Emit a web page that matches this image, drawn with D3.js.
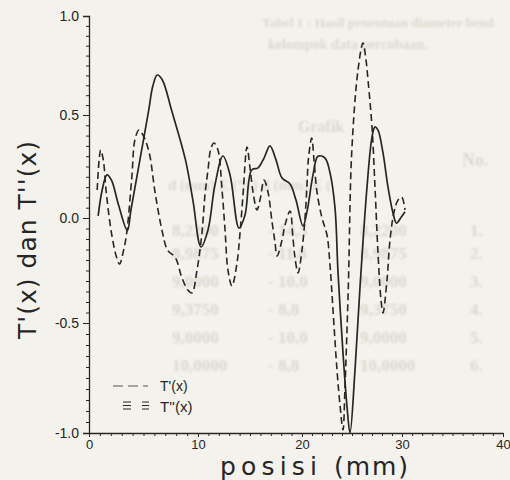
<!DOCTYPE html>
<html lang="id">
  <head>
    <meta charset="UTF-8" />
    <title>T'(x) dan T''(x)</title>
    <style>
      body { margin: 0; background: #f4f2ec; }
      svg { display: block; }
    </style>
  </head>
  <body>
    <svg width="510" height="480"></svg>
    <script src="https://d3js.org/d3.v7.min.js"></script>
    <script>
      // tick labels
      var xTicks = [0, 10, 20, 30, 40];
      var yTicks = [-1, -0.5, 0, 0.5, 1];

      // T'(x), solid line
      var posisi1 = [0.84, 1.21, 1.65, 2.06, 2.71, 3.52, 3.85, 4.67, 5.48, 5.85,
        6.26, 6.73, 7.57, 8.85, 9.53, 10.29, 10.96, 11.63, 12.4, 13.08,
        13.94, 14.52, 15.16, 15.77, 16.35, 16.92, 17.5, 18.08, 18.85, 19.42,
        20.1, 20.5, 21.1, 21.6, 22.3, 22.8, 23.3, 23.6, 24.1, 24.5,
        24.8, 25.3, 25.8, 26.5, 27.0, 27.3, 27.6, 28.1, 28.6, 29.1,
        29.45, 29.95, 30.3];
      var turunan1 = [0.01, 0.136, 0.209, 0.184, 0.063, -0.06, 0.04, 0.282, 0.525, 0.645,
        0.702, 0.677, 0.525, 0.282, 0.087, -0.138, -0.057, 0.16, 0.301, 0.209,
        -0.048, 0.015, 0.233, 0.243, 0.291, 0.35, 0.282, 0.194, 0.165, 0.087,
        -0.038, 0.031, 0.209, 0.3, 0.291, 0.22, 0.049, -0.257, -0.636, -0.88,
        -1.0, -0.714, -0.33, 0.15, 0.393, 0.442, 0.427, 0.316, 0.15, 0.024,
        -0.024, 0.006, 0.03];

      // T''(x), dashed line
      var posisi2 = [0.75, 0.93, 1.07, 1.31, 1.59, 2.06, 2.52, 2.8, 3.18, 3.46,
        3.93, 4.21, 4.58, 4.95, 5.51, 6.07, 6.73, 7.2, 7.94, 8.5,
        9.07, 9.44, 9.91, 10.38, 10.67, 10.96, 11.25, 11.54, 11.92, 12.31,
        12.6, 12.88, 13.27, 13.75, 14.04, 14.33, 14.71, 15.0, 15.29, 15.67,
        15.96, 16.35, 16.73, 17.12, 17.4, 17.6, 18.08, 18.37, 18.85, 19.13,
        19.33, 19.62, 20.0, 20.3, 20.5, 20.65, 20.97, 21.2, 21.5, 22.0,
        22.5, 22.8, 23.1, 23.5, 23.8, 24.1, 24.3, 24.63, 24.97, 25.6,
        26.1, 26.4, 26.6, 27.0, 27.3, 27.6, 27.9, 28.1, 28.5, 28.8,
        29.2, 29.6, 29.97, 30.3];
      var turunan2 = [0.136, 0.282, 0.33, 0.282, 0.121, -0.071, -0.186, -0.219, -0.152, -0.071,
        0.199, 0.379, 0.427, 0.403, 0.32, 0.121, -0.067, -0.152, -0.19, -0.281,
        -0.343, -0.357, -0.248, -0.071, 0.112, 0.233, 0.34, 0.364, 0.33, 0.136,
        -0.057, -0.248, -0.324, -0.214, -0.071, 0.112, 0.345, 0.243, 0.126, 0.039,
        0.087, 0.184, 0.126, -0.019, -0.114, -0.181, -0.105, -0.033, 0.034, -0.095,
        -0.19, -0.262, -0.152, 0.0, 0.16, 0.291, 0.388, 0.282, 0.126, 0.0,
        -0.081, -0.224, -0.438, -0.714, -0.873, -0.986, -0.79, -0.33, 0.316, 0.727,
        0.864, 0.778, 0.677, 0.442, 0.15, -0.167, -0.39, -0.452, -0.295, -0.105,
        0.029, 0.087, 0.102, 0.039];

      // text showing through from the other side of the page
      var tembusJudul = ["Tabel 1 : Hasil penentuan diameter bend", "kelompok data percobaan."];
      var tembusBaris = [
        ["8,2200", "- 14,5", "8,2200", "1."],
        ["8,9875", "- 11,8", "8,9875", "2."],
        ["9,0000", "- 10,0", "9,0000", "3."],
        ["9,3750", "- 8,8", "9,3750", "4."],
        ["9,0000", "- 10,0", "9,0000", "5."],
        ["10,0000", "- 8,8", "10,0000", "6."]
      ];

      var svg = d3.select("svg");
      var ink = "#262626";
      var huruf = "'DejaVu Sans', 'Liberation Sans', sans-serif";

      // scanned page: the tick spacing is not quite even, so piecewise scales
      var x = d3.scaleLinear().domain(xTicks).range([89, 198, 302, 402, 503]);
      var y = d3.scaleLinear().domain(yTicks).range([433, 323, 218, 115, 16]);

      svg.append("defs").append("filter").attr("id", "kabur")
        .append("feGaussianBlur").attr("stdDeviation", 0.9);

      // ghost text
      var ghost = svg.append("g")
        .attr("fill", "#dcd8ce")
        .attr("filter", "url(#kabur)")
        .attr("font-family", "'Liberation Serif', serif")
        .attr("font-weight", "bold");
      ghost.selectAll(".judul").data(tembusJudul).enter().append("text")
        .attr("x", function (d, i) { return i == 0 ? 262 : 268; })
        .attr("y", function (d, i) { return 27 + i * 22; })
        .attr("font-size", function (d, i) { return i == 0 ? 12 : 15; })
        .attr("textLength", function (d, i) { return i == 0 ? 232 : 160; })
        .attr("lengthAdjust", "spacingAndGlyphs")
        .text(function (d) { return d; });
      ghost.append("text").attr("x", 298).attr("y", 132).attr("font-size", 16).text("Grafik");
      ghost.append("text").attr("x", 462).attr("y", 166).attr("font-size", 18).text("No.");
      ghost.append("text").attr("x", 168).attr("y", 190).attr("font-size", 15)
        .text("d (mm)     E (%)     d (mm)     E (");
      var kolomX = [172, 268, 360, 470];
      var barisY = [236, 259, 287, 315, 343, 371];
      tembusBaris.forEach(function (r, i) {
        ghost.selectAll(null).data(r).enter().append("text")
          .attr("x", function (d, j) { return kolomX[j]; })
          .attr("y", barisY[i])
          .attr("font-size", 17)
          .text(function (d) { return d; });
      });

      // axes
      var fmt = function (d) { return d.toFixed(1); };

      svg.append("g")
        .attr("transform", "translate(0,433)")
        .call(d3.axisBottom(x).tickValues(d3.range(0, 41, 1)).tickSize(3).tickSizeOuter(0).tickFormat(""))
        .call(function (g) { g.select(".domain").remove(); })
        .attr("color", ink);

      var gx = svg.append("g")
        .attr("transform", "translate(0,433)")
        .call(d3.axisBottom(x).tickValues(xTicks).tickSize(4).tickSizeOuter(0).tickPadding(3))
        .attr("color", ink)
        .attr("font-family", "'Liberation Sans', Arial, sans-serif")
        .attr("font-size", 13);
      gx.select(".domain").attr("stroke-width", 1.3);

      svg.append("g")
        .attr("transform", "translate(89,0)")
        .call(d3.axisLeft(y).tickValues(d3.range(-1, 1.001, 0.05)).tickSize(3).tickSizeOuter(0).tickFormat(""))
        .call(function (g) { g.select(".domain").remove(); })
        .attr("color", ink);

      var gy = svg.append("g")
        .attr("transform", "translate(89,0)")
        .call(d3.axisLeft(y).tickValues(yTicks).tickSize(6).tickSizeOuter(6).tickPadding(4).tickFormat(fmt))
        .attr("color", ink)
        .attr("font-family", "'Liberation Sans', Arial, sans-serif")
        .attr("font-size", 14);
      gy.select(".domain").attr("stroke-width", 1.3);

      // axis titles
      svg.append("text")
        .attr("transform", "translate(36,240) rotate(-90)")
        .attr("text-anchor", "middle")
        .attr("font-family", huruf)
        .attr("font-size", 25)
        .attr("fill", ink)
        .attr("textLength", 198)
        .attr("lengthAdjust", "spacing")
        .text("T'(x) dan T''(x)");

      svg.append("text")
        .attr("x", 220)
        .attr("y", 475)
        .attr("font-family", huruf)
        .attr("font-size", 25)
        .attr("fill", ink)
        .attr("textLength", 97)
        .attr("lengthAdjust", "spacing")
        .text("posisi");
      svg.append("text")
        .attr("x", 334)
        .attr("y", 475)
        .attr("font-family", huruf)
        .attr("font-size", 25)
        .attr("fill", ink)
        .attr("textLength", 74)
        .attr("lengthAdjust", "spacing")
        .text("(mm)");

      // curves
      var line = d3.line()
        .x(function (d) { return x(d[0]); })
        .y(function (d) { return y(d[1]); })
        .curve(d3.curveCatmullRom.alpha(0.5));

      svg.append("path")
        .datum(d3.zip(posisi2, turunan2))
        .attr("fill", "none")
        .attr("stroke", ink)
        .attr("stroke-width", 1.6)
        .attr("stroke-dasharray", "7,4")
        .attr("d", line);

      svg.append("path")
        .datum(d3.zip(posisi1, turunan1))
        .attr("fill", "none")
        .attr("stroke", ink)
        .attr("stroke-width", 1.7)
        .attr("stroke-linejoin", "round")
        .attr("d", line);

      // legend
      var legend = svg.append("g").attr("fill", ink).attr("stroke", ink)
        .attr("font-family", "'Liberation Sans', Arial, sans-serif");
      legend.append("line")
        .attr("x1", 113).attr("x2", 148).attr("y1", 386).attr("y2", 386)
        .attr("stroke-width", 1).attr("stroke-dasharray", "10,5").attr("stroke", "#555");
      [402, 405.5, 409].forEach(function (yy) {
        legend.append("line")
          .attr("x1", 123).attr("x2", 149).attr("y1", yy).attr("y2", yy)
          .attr("stroke-width", 1.2).attr("stroke-dasharray", "8,11");
      });
      legend.append("text").attr("x", 160).attr("y", 391).attr("stroke", "none")
        .attr("font-size", 14).text("T'(x)");
      legend.append("text").attr("x", 160).attr("y", 412).attr("stroke", "none")
        .attr("font-size", 15).text("T''(x)");
    </script>
  </body>
</html>
